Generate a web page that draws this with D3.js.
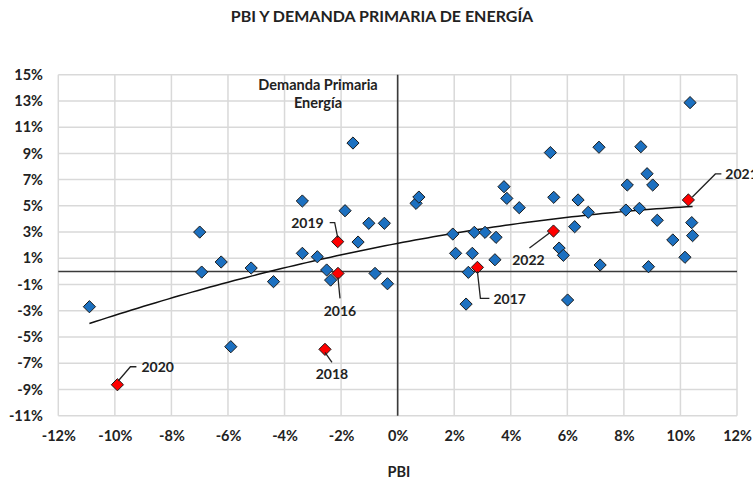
<!DOCTYPE html>
<html>
<head>
<meta charset="utf-8">
<script src="https://cdn.jsdelivr.net/npm/d3@7"></script>
<style>
  body { margin: 0; background: #fff; }
  svg text { font-family: Lato, "Noto Sans", sans-serif; font-weight: bold; fill: #222; }
</style>
</head>
<body>
<svg id="chart" width="753" height="479"></svg>
<script>
// PBI growth (%) vs primary energy demand growth (%)
const pbiVals = [-10.9, -7.0, -6.93, -6.24, -5.9, -5.18, -4.39, -3.37, -3.37, -2.84, -2.51, -2.37, -1.86, -1.58, -1.4, -1.02, -0.8, -0.47, -0.36,
  0.65, 0.75, 1.95, 2.05, 2.42, 2.5, 2.64, 2.71, 3.09, 3.44, 3.48, 3.76, 3.86, 4.3, 5.4, 5.52, 5.71, 5.86, 6.01, 6.26, 6.38, 6.74,
  7.12, 7.16, 8.07, 8.12, 8.55, 8.6, 8.82, 8.87, 9.02, 9.18, 9.73, 10.16, 10.34, 10.4, 10.43]
const demandVals = [-2.69, 3.0, -0.05, 0.72, -5.74, 0.26, -0.78, 5.37, 1.38, 1.12, 0.11, -0.66, 4.63, 9.79, 2.24, 3.67, -0.15, 3.67, -0.94,
  5.19, 5.67, 2.85, 1.38, -2.49, -0.07, 1.38, 2.98, 2.98, 0.89, 2.6, 6.46, 5.57, 4.86, 9.06, 5.65, 1.78, 1.23, -2.18, 3.41, 5.45, 4.51,
  9.47, 0.49, 4.68, 6.59, 4.81, 9.51, 7.45, 0.36, 6.59, 3.9, 2.4, 1.08, 12.87, 3.72, 2.73]

// highlighted years
const yearLabels = ["2016", "2017", "2018", "2019", "2020", "2021", "2022"]
const yearPbi = [-2.11, 2.82, -2.57, -2.12, -9.91, 10.28, 5.51]
const yearDemand = [-0.15, 0.31, -5.94, 2.27, -8.64, 5.45, 3.08]

const xTicks = d3.range(-12, 13, 2)
const yTicks = d3.range(-11, 16, 2)

const svg = d3.select('#chart')
const x = d3.scaleLinear().domain([-12, 12]).range([58.3, 737])
const y = d3.scaleLinear().domain([-11, 15]).range([415.7, 74.7])

// grid
svg.append('g')
  .selectAll('line.v')
  .data(xTicks)
  .enter().append('line')
  .attr('x1', d => x(d)).attr('x2', d => x(d))
  .attr('y1', y(15)).attr('y2', y(-11))
  .style('stroke', '#d9d9d9').style('stroke-width', 1.5)
svg.append('g')
  .selectAll('line.h')
  .data(yTicks)
  .enter().append('line')
  .attr('x1', x(-12)).attr('x2', x(12))
  .attr('y1', d => y(d)).attr('y2', d => y(d))
  .style('stroke', '#d9d9d9').style('stroke-width', 1.5)

// axes labels
const fmt = d => d + '%'
svg.append('g')
  .attr('transform', `translate(0,436)`)
  .call(d3.axisBottom(x).tickValues(xTicks).tickFormat(fmt).tickSize(0).tickPadding(0))
  .call(g => g.select('.domain').remove())
  .selectAll('text').attr('dy', '0.35em').style('font-size', '14.5px')
svg.append('g')
  .attr('transform', `translate(43,0)`)
  .call(d3.axisLeft(y).tickValues(yTicks).tickFormat(fmt).tickSize(0).tickPadding(0))
  .call(g => g.select('.domain').remove())
  .selectAll('text').style('font-size', '14.5px')

// zero lines
svg.append('line')
  .attr('x1', x(-12)).attr('x2', x(12)).attr('y1', y(0)).attr('y2', y(0))
  .style('stroke', '#3a3a3a').style('stroke-width', 1.6)
svg.append('line')
  .attr('x1', x(0)).attr('x2', x(0)).attr('y1', y(15)).attr('y2', y(-11))
  .style('stroke', '#3a3a3a').style('stroke-width', 1.6)

// quadratic trend line (least squares over all points)
const allX = pbiVals.concat(yearPbi)
const allY = demandVals.concat(yearDemand)
const S = k => d3.sum(allX, v => Math.pow(v, k))
const T = k => d3.sum(allX, (v, i) => Math.pow(v, k) * allY[i])
const M = [[S(0), S(1), S(2)], [S(1), S(2), S(3)], [S(2), S(3), S(4)]]
const B = [T(0), T(1), T(2)]
const det3 = m => m[0][0]*(m[1][1]*m[2][2]-m[1][2]*m[2][1]) - m[0][1]*(m[1][0]*m[2][2]-m[1][2]*m[2][0]) + m[0][2]*(m[1][0]*m[2][1]-m[1][1]*m[2][0])
const D = det3(M)
const coef = [0, 1, 2].map(c => det3(M.map((row, r) => row.map((v, j) => j === c ? B[r] : v))) / D)
const [xMin, xMax] = d3.extent(allX)
const trend = d3.range(0, 101).map(i => {
  const xv = xMin + (xMax - xMin) * i / 100
  return [xv, coef[0] + coef[1] * xv + coef[2] * xv * xv]
})
svg.append('path')
  .datum(trend)
  .attr('d', d3.line().x(d => x(d[0])).y(d => y(d[1])))
  .style('fill', 'none').style('stroke', '#111').style('stroke-width', 1.5)

// markers
const diamond = d3.symbol().type(d3.symbolDiamond2).size(95)
const points = pbiVals.map((v, i) => ({ x: v, y: demandVals[i] }))
svg.append('g')
  .selectAll('path')
  .data(points)
  .enter().append('path')
  .attr('d', diamond)
  .attr('transform', d => `translate(${x(d.x)},${y(d.y)})`)
  .style('fill', '#1c70c0').style('stroke', '#1a1a1a').style('stroke-width', 1)

const years = yearLabels.map((s, i) => ({ label: s, x: yearPbi[i], y: yearDemand[i] }))
svg.append('g')
  .selectAll('path')
  .data(years)
  .enter().append('path')
  .attr('d', diamond)
  .attr('transform', d => `translate(${x(d.x)},${y(d.y)})`)
  .style('fill', '#ff0000').style('stroke', '#1a1a1a').style('stroke-width', 1)

// year callouts: leader offsets from the point, and text anchor
const callouts = {
  '2016': { path: [[0, 4], [2, 25]], tx: 2, ty: 38, anchor: 'middle' },
  '2017': { path: [[0, 4], [3, 31], [12, 31]], tx: 16, ty: 32, anchor: 'start' },
  '2018': { path: [[0, 3], [7, 13]], tx: 7, ty: 25, anchor: 'middle' },
  '2019': { path: [[0, -4], [-3, -19], [-8, -19]], tx: -14, ty: -19, anchor: 'end' },
  '2020': { path: [[1, -4], [13, -18], [19, -18]], tx: 24, ty: -18, anchor: 'start' },
  '2021': { path: [[4, -3], [27, -26], [33, -26]], tx: 37, ty: -26, anchor: 'start' },
  '2022': { path: [[-4, 2], [-24, 17]], tx: -25, ty: 29, anchor: 'middle' }
}
const cg = svg.append('g')
years.forEach(d => {
  const c = callouts[d.label]
  const px = x(d.x), py = y(d.y)
  cg.append('path')
    .attr('d', d3.line()(c.path.map(p => [px + p[0], py + p[1]])))
    .style('fill', 'none').style('stroke', '#222').style('stroke-width', 1.3)
  cg.append('text')
    .attr('x', px + c.tx).attr('y', py + c.ty)
    .attr('dy', '0.35em')
    .attr('text-anchor', c.anchor)
    .style('font-size', '14px')
    .text(d.label)
})

// inner label
svg.append('text').attr('x', 318).attr('y', 85).attr('dy', '0.35em')
  .attr('text-anchor', 'middle').style('font-size', '14.5px').text('Demanda Primaria')
svg.append('text').attr('x', 318).attr('y', 103).attr('dy', '0.35em')
  .attr('text-anchor', 'middle').style('font-size', '14.5px').text('Energía')

// title and axis title
svg.append('text').attr('x', 382).attr('y', 16).attr('dy', '0.35em')
  .attr('text-anchor', 'middle').style('font-size', '16px').text('PBI Y DEMANDA PRIMARIA DE ENERGÍA')
svg.append('text').attr('x', 399).attr('y', 472).attr('dy', '0.35em')
  .attr('text-anchor', 'middle').style('font-size', '14.5px').text('PBI')
</script>
</body>
</html>
